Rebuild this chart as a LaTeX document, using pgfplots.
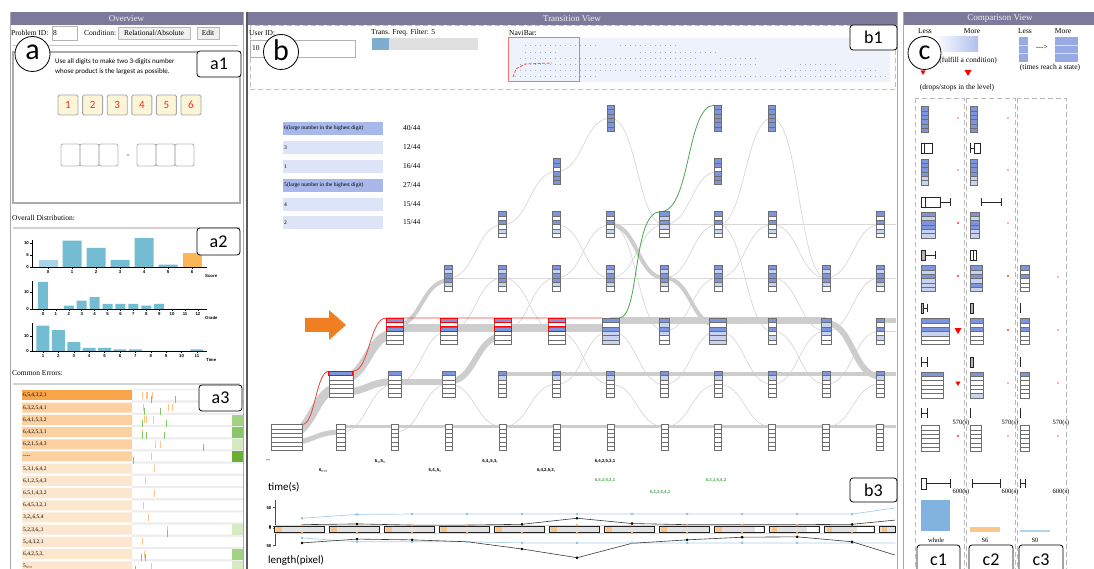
\documentclass[border=0pt]{standalone}
\usepackage{pgfplots}
\pgfplotsset{compat=1.18}
\usepackage{fontspec}
\setmainfont{Liberation Serif}
\setsansfont{Liberation Sans}
\newfontfamily\carl{Carlito}

\definecolor{hdr}{HTML}{7C7A9B}
\definecolor{hdrtxt}{HTML}{EEEEF6}
\definecolor{pgray}{HTML}{A8A8A8}
\definecolor{tile}{HTML}{FCF5D8}
\definecolor{dred}{HTML}{E8312B}
\definecolor{barb}{HTML}{74BCD1}
\definecolor{barl}{HTML}{A9D3E6}
\definecolor{baro}{HTML}{FBB657}
\definecolor{or1}{HTML}{F9A64A}
\definecolor{or2}{HTML}{FCD0A0}
\definecolor{or3}{HTML}{FDE6CE}
\definecolor{tickor}{HTML}{FBC48A}
\definecolor{tickgr}{HTML}{86C463}
\definecolor{gsq1}{HTML}{D3EAC3}
\definecolor{gsq2}{HTML}{A3D185}
\definecolor{gsq3}{HTML}{8CC66A}
\definecolor{gsq4}{HTML}{6AAE35}
\definecolor{nb}{HTML}{7D95DE}
\definecolor{nl}{HTML}{C8D3F3}
\definecolor{nedge}{HTML}{6E6E6E}
\definecolor{tbd}{HTML}{A9B8EA}
\definecolor{tbl}{HTML}{DDE4F7}
\definecolor{flowg}{HTML}{CDCDCD}
\definecolor{flowt}{HTML}{D8D8D8}
\definecolor{redp}{HTML}{EE4444}
\definecolor{greenp}{HTML}{4DA84D}
\definecolor{navi}{HTML}{EEF3FB}
\definecolor{navid}{HTML}{9DAFD3}
\definecolor{slider}{HTML}{E0E0E0}
\definecolor{sliderb}{HTML}{7EADD0}
\definecolor{lblue}{HTML}{A6D0EA}
\definecolor{lbluem}{HTML}{8FC3E3}
\definecolor{lorange}{HTML}{FAD2A4}
\definecolor{dorange}{HTML}{F7B46A}
\definecolor{boxg}{HTML}{E2E2E2}
\definecolor{arrowo}{HTML}{F07E22}
\definecolor{wholeb}{HTML}{80B3DD}
\definecolor{s6o}{HTML}{FBC68A}
\definecolor{s0b}{HTML}{AED6EA}

\newcommand{\ui}{\fontsize{7.5}{8.5}\selectfont}
\newcommand{\rowf}{\fontsize{5.5}{6}\selectfont}
\newcommand{\lblf}{\sffamily\bfseries\fontsize{4.3}{5}\selectfont}

% stacked state glyph: name, half width, cell colours top to bottom
\newcommand{\defstack}[3]{%
  \pgfdeclareplotmark{#1}{%
    \pgfsetlinewidth{0.5pt}\pgfsetstrokecolor{nedge}%
    \foreach \cc [count=\i from 0] in {#3}{%
      \pgfsetfillcolor{\cc}%
      \pgfpathrectanglecorners{\pgfpoint{-#2pt}{13pt-\i*4.333pt}}{\pgfpoint{#2pt}{8.667pt-\i*4.333pt}}%
      \pgfusepath{fill,stroke}}}}
\defstack{sWide}{15.5}{white,white,white,white,white,white}
\defstack{sW45}{4.5}{white,white,white,white,white,white}
\defstack{sW35}{3.5}{white,white,white,white,white,white}
\defstack{sR1}{12}{nb,white,white,white,white,white}
\defstack{sR2}{8.5}{nb,white,nb,white,white,white}
\defstack{sB2}{8.5}{nb,white,nb,nl,nl,nl}
\defstack{sB3}{5}{nb,nl,nb,nl,white,white}
\defstack{sT}{6.5}{nb,white,white,white,white,white}
\defstack{sT2}{4}{nb,nl,white,white,white,white}
\defstack{sM}{4}{nb,nl,nb,nb,nl,white}
\defstack{sM2}{4}{nb,white,nb,white,nl,white}
\defstack{sA}{3.5}{nb,nb,nb,nb,nb,nb}
\defstack{sA2}{3.5}{nb,nb,white,nb,nb,nb}
\defstack{cA}{3.5}{nb,nb,nb,nb,nb,nb}
\defstack{cA2}{3.5}{nb,nb,nb,nb,nl,nl}
\defstack{cOneF}{7}{nb,nl,nb,nb,nl,nl}
\defstack{cOneT}{7}{nb,nl,nb,nl,nl,nl}
\defstack{cOneS}{14}{nb,white,nb,nl,white,white}
\defstack{cOneO}{11}{nb,white,white,white,white,white}
\defstack{cOneZ}{9}{white,white,white,white,white,white}
\defstack{cTwoF}{4.5}{nb,nl,nb,nb,nl,nl}
\defstack{cTwoT}{6}{nb,nl,nb,nl,nb,nl}
\defstack{cTwoS}{6.5}{nb,white,nb,white,white,white}
\defstack{cTwoO}{6.5}{nb,white,white,white,white,nl}
\defstack{cTwoZ}{5.5}{white,white,white,white,white,white}
\defstack{cThrT}{4.5}{nb,white,nb,white,white,white}
\defstack{cThrO}{4.5}{nb,white,white,white,white,white}
\defstack{cThrZ}{4.5}{white,white,white,white,white,white}
\pgfdeclareplotmark{rTop}{\pgfsetlinewidth{0.9pt}\pgfsetstrokecolor{red}%
  \pgfpathrectanglecorners{\pgfpoint{-12pt}{13pt}}{\pgfpoint{12pt}{8.667pt}}\pgfusepath{stroke}}
\pgfdeclareplotmark{rTwo}{\pgfsetlinewidth{0.9pt}\pgfsetstrokecolor{red}%
  \pgfpathrectanglecorners{\pgfpoint{-8.5pt}{13pt}}{\pgfpoint{8.5pt}{8.667pt}}%
  \pgfpathrectanglecorners{\pgfpoint{-8.5pt}{4.333pt}}{\pgfpoint{8.5pt}{0pt}}\pgfusepath{stroke}}

\newcommand{\fl}[5]{\draw[#5] (axis cs:#1,#3) .. controls (axis cs:#1.5,#3) and (axis cs:#1.5,#4) .. (axis cs:#2,#4);}
\tikzset{thk/.style={draw=flowg, line width=#1}, thn/.style={draw=flowt, line width=0.7pt}}
\pgfplotsset{every axis/.append style={/pgf/number format/assume math mode=true}}

\begin{document}
\begin{tikzpicture}[x=1pt,y=1pt]
\path[use as bounding box] (0,0) rectangle (1094,569);
\fill[white] (0,0) rectangle (1094,569);

% ================= decoration (pixel coordinates, y down) =================
\begin{scope}[shift={(0pt,569pt)}, yscale=-1]
% ---- panel A
\fill[hdr] (10,12) rectangle (243,25);
\node[text=hdrtxt, font=\fontsize{9}{10}\selectfont] at (126.5,18.7) {Overview};
\draw[pgray, line width=0.8pt] (10,12) -- (10,569);
\draw[pgray, line width=0.8pt] (243,12) -- (243,569);
\node[anchor=west, font=\ui, inner sep=0pt] at (11,33) {Problem ID:};
\draw[gray!60, fill=white] (52,26) rectangle (77,40);
\node[anchor=west, font=\ui, inner sep=0pt] at (53,33) {8};
\node[anchor=west, font=\ui, inner sep=0pt] at (84,33) {Condition:};
\draw[gray!55, fill=gray!12] (118,27) rectangle (190,39);
\node[font=\ui, inner sep=0pt] at (154,33) {Relational/Absolute};
\draw[gray!55, fill=gray!12] (197,27) rectangle (219,39);
\node[font=\ui, inner sep=0pt] at (208,33) {Edit};
\draw[gray!45, line width=0.8pt] (13,45) -- (238,45);
\draw[gray!65, line width=1.3pt] (13,52) rectangle (240,203);
\node[anchor=west, font=\carl\fontsize{7}{8}\selectfont, inner sep=0pt] at (55,62) {Use all digits to make two 3-digits number};
\node[anchor=west, font=\carl\fontsize{7}{8}\selectfont, inner sep=0pt] at (55,72) {whose product is the largest as possible.};
\foreach \a/\n in {58/1,82.6/2,107.2/3,131.8/4,156.4/5,181/6}{
  \draw[rounded corners=1.5pt, fill=tile, draw=gray!70, line width=0.9pt] (\a,95) rectangle ++(20,20);
  \node[text=dred, font=\carl\fontsize{11}{12}\selectfont] at (\a+10,105) {\n};}
\foreach \a in {61,80,99,137,156,175}{
  \draw[rounded corners=2pt, draw=gray!55, line width=0.9pt] (\a,144) rectangle ++(19,22);}
\fill[gray!70] (128,155) circle (1.2pt);
\node[anchor=west, font=\ui, inner sep=0pt] at (12,218) {Overall Distribution:};
\draw[gray!35, line width=1.2pt] (13,228) -- (240,228);
\node[anchor=west, font=\lblf, inner sep=0pt] at (205,276) {Score};
\node[anchor=west, font=\lblf, inner sep=0pt] at (205,318) {Grade};
\node[anchor=west, font=\lblf, inner sep=0pt] at (206,360) {Time};
\node[anchor=west, font=\ui, inner sep=0pt] at (12,373) {Common Errors:};
\draw[gray!35, line width=1.2pt] (13,384) -- (240,384);

% ---- panel B
\fill[hdr] (248,12) rectangle (897,25);
\node[text=hdrtxt, font=\fontsize{9}{10}\selectfont] at (572,18.7) {Transition View};
\draw[gray!70!black, line width=1.4pt] (247,12) -- (247,569);
\draw[pgray, line width=0.8pt] (897,12) -- (897,569);
\draw[gray!50, line width=1pt, dash pattern=on 5pt off 3pt] (250,26) rectangle (895,90);
\node[anchor=west, font=\ui, inner sep=0pt] at (249,33) {User ID:};
\draw[gray!60, fill=white] (250,40) rectangle (355,57);
\node[anchor=west, font=\ui, inner sep=0pt] at (252,48.5) {10};
\node[anchor=west, font=\ui, inner sep=0pt] at (371,33) {Trans. Freq. Filter: 5};
\fill[slider] (372,38) rectangle (478,50);
\fill[sliderb] (372,38) rectangle (389,50);
\node[anchor=west, font=\ui, inner sep=0pt] at (509,33) {NaviBar:};
\fill[navi] (508,38) rectangle (890,82);
\foreach \y/\a/\b in {45/525/600,45/620/680,52/525/560,52/640/720,58/520/700,58/720/760,64/520/760,64/800/840,70/520/740,70/780/880,76/515/600,76/640/890}{
  \draw[navid, line width=0.7pt, dash pattern=on 1pt off 4pt] (\a,\y) -- (\b,\y);}
\draw[red!70, line width=0.8pt, dash pattern=on 3pt off 1.5pt] (513,77) -- (516,69) -- (525,64) -- (552,63);
\draw[red!55, line width=1pt] (508,38) rectangle (579,82);
% table
\fill[tbd] (283,122) rectangle (383,135);
\fill[tbl] (283,141) rectangle (383,154);
\fill[tbl] (283,160) rectangle (383,173);
\fill[tbd] (283,179) rectangle (383,192);
\fill[tbl] (283,198) rectangle (383,211);
\fill[tbl] (283,216) rectangle (383,229);
\node[anchor=west, font=\fontsize{5.6}{6}\selectfont, inner sep=0pt] at (284,128.5) {6(large number in the highest digit)};
\node[anchor=west, font=\fontsize{5.6}{6}\selectfont, inner sep=0pt] at (284,147.5) {3};
\node[anchor=west, font=\fontsize{5.6}{6}\selectfont, inner sep=0pt] at (284,166.5) {1};
\node[anchor=west, font=\fontsize{5.6}{6}\selectfont, inner sep=0pt] at (284,185.5) {5(large number in the highest digit)};
\node[anchor=west, font=\fontsize{5.6}{6}\selectfont, inner sep=0pt] at (284,204.5) {4};
\node[anchor=west, font=\fontsize{5.6}{6}\selectfont, inner sep=0pt] at (284,222.5) {2};
\node[anchor=west, font=\fontsize{7.5}{8}\selectfont, inner sep=0pt] at (403,128.5) {40/44};
\node[anchor=west, font=\fontsize{7.5}{8}\selectfont, inner sep=0pt] at (403,147.5) {12/44};
\node[anchor=west, font=\fontsize{7.5}{8}\selectfont, inner sep=0pt] at (403,166.5) {16/44};
\node[anchor=west, font=\fontsize{7.5}{8}\selectfont, inner sep=0pt] at (403,185.5) {27/44};
\node[anchor=west, font=\fontsize{7.5}{8}\selectfont, inner sep=0pt] at (403,204.5) {15/44};
\node[anchor=west, font=\fontsize{7.5}{8}\selectfont, inner sep=0pt] at (403,222.5) {15/44};
% state labels under the columns
\node[font=\lblf] at (268,461) {{-}{-}{-}};
\node[font=\lblf] at (323,470) {6,,,,,};
\node[font=\lblf] at (380,461) {6,,,5,,};
\node[font=\lblf] at (435,470) {6,4,,5,,};
\node[font=\lblf] at (490,461) {6,4,,5,3,};
\node[font=\lblf] at (546,470) {6,4,2,5,3,};
\node[font=\lblf] at (605,461) {6,4,2,5,3,1};
\node[font=\lblf, text=greenp] at (605,480) {6,4,2,5,3,1};
\node[font=\lblf, text=greenp] at (660,492) {6,3,2,5,4,1};
\node[font=\lblf, text=greenp] at (716,480) {6,3,1,5,4,2};
% orange arrow
\fill[arrowo] (305,318) -- (329,318) -- (329,310) -- (346,325) -- (329,340) -- (329,332) -- (305,332) -- cycle;
\node[anchor=west, font=\carl\fontsize{11}{12}\selectfont, inner sep=0pt] at (268,487) {time(s)};
\node[anchor=west, font=\carl\fontsize{11}{12}\selectfont, inner sep=0pt] at (268,560) {length(pixel)};

% ---- panel C
\fill[hdr] (903,12) rectangle (1094,25);
\node[text=hdrtxt, font=\fontsize{9}{10}\selectfont] at (1000,18.7) {Comparison View};
\draw[pgray, line width=0.8pt] (903,12) -- (903,569);
\node[font=\ui, inner sep=0pt] at (925,31) {Less};
\node[font=\ui, inner sep=0pt] at (972,31) {More};
\shade[left color=white, right color=nb!60] (935,37) rectangle (978,52);
\node[font=\ui, inner sep=0pt] at (1025,31) {Less};
\node[font=\ui, inner sep=0pt] at (1063,31) {More};
\fill[nb!80] (1019,37) rectangle (1028,62);
\draw[white!70!nb, line width=0.4pt] (1019,45) -- (1028,45) (1019,53) -- (1028,53);
\node[font=\ui, inner sep=0pt] at (1042,47) {-{}-{}->};
\fill[nb!80] (1055,37) rectangle (1078,62);
\draw[white!70!nb, line width=0.4pt] (1055,45) -- (1078,45) (1055,53) -- (1078,53);
\node[font=\ui, inner sep=0pt] at (968,61) {(fulfill a condition)};
\node[font=\ui, inner sep=0pt] at (1050,68) {(times reach a state)};
\node[font=\ui, inner sep=0pt] at (957,88) {(drops/stops in the level)};
\draw[gray!55, line width=0.9pt, dash pattern=on 5pt off 3pt] (915,98) rectangle (964,575);
\draw[gray!55, line width=0.9pt, dash pattern=on 5pt off 3pt] (966,98) rectangle (1015,575);
\draw[gray!55, line width=0.9pt, dash pattern=on 5pt off 3pt] (1017,98) rectangle (1066,575);
% boxplot glyphs
\begin{scope}[draw=gray!30!black, line width=0.6pt]
\draw (921,143) rectangle (932,153); \draw (924,143) -- (924,153);
\draw (921,197) rectangle (940,207); \draw (925,197) -- (925,207); \draw (940,202) -- (950,202) (950,198) -- (950,206);
\draw[fill=gray!60] (921,250) rectangle (925,260); \draw (925,255) -- (935,255) (935,251) -- (935,259);
\draw[fill=gray!60] (921,303) rectangle (923,313); \draw (923,308) -- (927,308) (927,304) -- (927,312);
\draw (921,357) -- (921,367) (921,362) -- (927,362) (927,357) -- (927,367);
\draw (921,408) -- (921,418) (921,413) -- (927,413) (927,408) -- (927,418);
\draw (921,478) rectangle (926,489); \draw (926,483.5) -- (950,483.5) (950,479) -- (950,488);
\draw (970,143) -- (970,153) (970,148) -- (974,148); \draw (974,143) rectangle (980,153);
\draw (981,198) -- (981,206) (981,202) -- (1001,202) (1001,198) -- (1001,206);
\draw (970,250) rectangle (976,260); \draw (973,250) -- (973,260);
\draw[fill=gray!60] (970,303) rectangle (973,313);
\draw[fill=gray!60] (970,357) rectangle (973,367);
\draw (970,408) -- (970,418);
\draw (972,479) -- (972,488) (972,483.5) -- (1000,483.5) (1000,479) -- (1000,488);
\draw (1020,303) -- (1020,313);
\draw (1020,357) -- (1020,367);
\draw (1020,408) -- (1020,418);
\draw (1020,479) -- (1020,488) (1020,483.5) -- (1025,483.5) (1025,479) -- (1025,488);
\end{scope}
\foreach \x in {961,1010,1061}{
  \node[font=\fontsize{6.5}{7}\selectfont, inner sep=0pt] at (\x,423) {570(s)};
  \node[font=\fontsize{6.5}{7}\selectfont, inner sep=0pt] at (\x,492) {600(s)};}
\fill[wholeb] (921,500) rectangle (950,531);
\fill[s6o] (970,527) rectangle (1000,532);
\fill[s0b] (1020,530) rectangle (1050,532.5);
\node[font=\fontsize{6.5}{7}\selectfont, inner sep=0pt] at (936,540) {whole};
\node[font=\fontsize{6.5}{7}\selectfont, inner sep=0pt] at (985,540) {S6};
\node[font=\fontsize{6.5}{7}\selectfont, inner sep=0pt] at (1035,540) {S0};
\end{scope}

% ================= canvas axis for the comparison view glyphs =================
\begin{axis}[at={(0pt,0pt)}, anchor=south west, scale only axis, width=1094pt, height=569pt,
  xmin=0, xmax=1094, ymin=0, ymax=569, y dir=reverse, hide axis, clip=false]
\addplot[only marks, mark=cA] coordinates {(924.5,119.5) (973.5,119.5)};
\addplot[only marks, mark=cA2] coordinates {(924.5,172) (973.5,172)};
\addplot[only marks, mark=cOneF] coordinates {(928,225)};
\addplot[only marks, mark=cOneT] coordinates {(928,278.5)};
\addplot[only marks, mark=cOneS] coordinates {(935,331.5)};
\addplot[only marks, mark=cOneO] coordinates {(932,385)};
\addplot[only marks, mark=cOneZ] coordinates {(930,438.5)};
\addplot[only marks, mark=cTwoF] coordinates {(974.5,225)};
\addplot[only marks, mark=cTwoT] coordinates {(976,278.5)};
\addplot[only marks, mark=cTwoS] coordinates {(976.5,331.5)};
\addplot[only marks, mark=cTwoO] coordinates {(976.5,385)};
\addplot[only marks, mark=cTwoZ] coordinates {(975.5,438.5)};
\addplot[only marks, mark=cThrT] coordinates {(1024.5,278.5) (1024.5,331.5)};
\addplot[only marks, mark=cThrO] coordinates {(1024.5,385)};
\addplot[only marks, mark=cThrZ] coordinates {(1024.5,438.5)};
\addplot[only marks, mark=*, mark size=0.8pt, color=red!35] coordinates {(958,118) (958,170) (1008,118) (1008,170) (1008,223) (1058,277) (1058,330) (1008,383) (1058,383) (1008,436) (1058,436)};
\addplot[only marks, mark=*, mark size=0.9pt, color=red!70] coordinates {(958,223) (958,276) (1008,276) (1008,330) (958,436)};
\addplot[only marks, mark=triangle*, mark size=3.6pt, color=red, mark options={rotate=180}] coordinates {(958,330) (968,72)};
\addplot[only marks, mark=triangle*, mark size=2.5pt, color=red, mark options={rotate=180}] coordinates {(958,383)};
\end{axis}

% ================= a2: overall distribution =================
\begin{axis}[at={(32pt,302pt)}, anchor=south west, scale only axis, width=175pt, height=27pt,
  xmin=-0.667, xmax=6.625, ymin=0, ymax=11.25, axis x line=bottom, axis y line=left,
  axis line style={-, black, line width=0.6pt}, xtick={0,...,6}, ytick={0,5,10},
  tick align=outside, major tick length=2pt, tick style={black, line width=0.5pt},
  ticklabel style={font=\lblf, inner sep=1pt}, clip=false]
\addplot[ybar, bar width=19pt, bar shift=0pt, fill=barl, draw=none] coordinates {(0,3)};
\addplot[ybar, bar width=19pt, bar shift=0pt, fill=barb, draw=none] coordinates {(1,11) (2,8) (3,3) (4,12) (5,1)};
\addplot[ybar, bar width=19pt, bar shift=0pt, fill=baro, draw=none] coordinates {(6,6)};
\end{axis}
\begin{axis}[at={(32pt,260pt)}, anchor=south west, scale only axis, width=175pt, height=28pt,
  xmin=-0.85, xmax=12.7, ymin=0, ymax=16.5, axis x line=bottom, axis y line=left,
  axis line style={-, black, line width=0.6pt}, xtick={0,...,12}, ytick={0,10},
  tick align=outside, major tick length=2pt, tick style={black, line width=0.5pt},
  ticklabel style={font=\lblf, inner sep=1pt}, clip=false]
\addplot[ybar, bar width=10pt, bar shift=0pt, fill=barb, draw=none] coordinates {(0,16) (1,0) (2,2) (3,5) (4,7) (5,3) (6,3) (7,3) (8,2) (9,3) (10,0) (11,0) (12,0)};
\end{axis}
\begin{axis}[at={(32pt,218pt)}, anchor=south west, scale only axis, width=175pt, height=28pt,
  xmin=0.286, xmax=11.65, ymin=0, ymax=18.7, axis x line=bottom, axis y line=left,
  axis line style={-, black, line width=0.6pt}, xtick={1,...,11}, ytick={0,10},
  tick align=outside, major tick length=2pt, tick style={black, line width=0.5pt},
  ticklabel style={font=\lblf, inner sep=1pt}, clip=false]
\addplot[ybar, bar width=13pt, bar shift=0pt, fill=barb, draw=none] coordinates {(1,17) (2,14) (3,6) (4,2) (5,2) (6,1) (7,1) (8,0) (9,0) (10,0) (11,1)};
\end{axis}

% ================= a3: common errors =================
\begin{axis}[at={(22pt,-3.4pt)}, anchor=south west, scale only axis, width=221pt, height=183pt,
  xmin=22, xmax=243, ymin=0.5, ymax=15.5, y dir=reverse, hide axis, clip mode=individual]
\fill[gray!14] (axis cs:132,0.5) rectangle (axis cs:243,15.5);
\addplot[xbar, bar width=10pt, bar shift=0pt, fill=white, draw=none] coordinates {(243,1) (243,2) (243,3) (243,4) (243,5) (243,6) (243,7) (243,8) (243,9) (243,10) (243,11) (243,12) (243,13) (243,14) (243,15)};
\addplot[xbar, bar width=10pt, bar shift=0pt, fill=or1, draw=none] coordinates {(132,1)};
\addplot[xbar, bar width=10pt, bar shift=0pt, fill=or2, draw=none] coordinates {(132,2) (132,3) (132,4) (132,5) (132,6)};
\addplot[xbar, bar width=10pt, bar shift=0pt, fill=or3, draw=none] coordinates {(132,7) (132,8) (132,9) (132,10) (132,11) (132,12) (132,13) (132,14) (132,15)};
\addplot[only marks, mark=|, mark size=3.5pt, color=tickor, mark options={line width=0.9pt}] coordinates {(142,1) (146,1) (147.5,1) (152,1) (143,2) (168,2) (172,2) (144,3) (146,3) (153,3) (142,4) (155,5) (160,5) (151,6) (154,7) (145,8) (154,9) (143,10) (148,11) (167,12) (142,13) (144,14) (151,15)};
\addplot[only marks, mark=|, mark size=3.5pt, color=tickgr, mark options={line width=0.9pt}] coordinates {(151,1.3) (175,1.3) (144,2.3) (160,2.3) (142,3.3) (166,3.3) (142,4.3) (146,4.3) (164,4.3) (203,5.3) (133,6.3) (167,12.3) (141,14.3) (145,14.3) (135,15.3)};
\addplot[only marks, mark=square*, mark size=5pt, color=gsq1] coordinates {(237.5,5) (237.5,12) (237.5,15)};
\addplot[only marks, mark=square*, mark size=5pt, color=gsq2] coordinates {(237.5,3) (237.5,14)};
\addplot[only marks, mark=square*, mark size=5pt, color=gsq3] coordinates {(237.5,4)};
\addplot[only marks, mark=square*, mark size=5pt, color=gsq4] coordinates {(237.5,6)};
\node[anchor=west, font=\rowf, inner sep=0pt] at (axis cs:23,1) {6,5,4,3,2,1};
\node[anchor=west, font=\rowf, inner sep=0pt] at (axis cs:23,2) {6,3,2,5,4,1};
\node[anchor=west, font=\rowf, inner sep=0pt] at (axis cs:23,3) {6,4,1,5,3,2};
\node[anchor=west, font=\rowf, inner sep=0pt] at (axis cs:23,4) {6,4,2,5,3,1};
\node[anchor=west, font=\rowf, inner sep=0pt] at (axis cs:23,5) {6,2,1,5,4,3};
\node[anchor=west, font=\rowf, inner sep=0pt] at (axis cs:23,6) {{-}{-}{-}{-}};
\node[anchor=west, font=\rowf, inner sep=0pt] at (axis cs:23,7) {5,3,1,6,4,2};
\node[anchor=west, font=\rowf, inner sep=0pt] at (axis cs:23,8) {6,1,2,5,4,3};
\node[anchor=west, font=\rowf, inner sep=0pt] at (axis cs:23,9) {6,5,1,4,3,2};
\node[anchor=west, font=\rowf, inner sep=0pt] at (axis cs:23,10) {6,4,5,3,2,1};
\node[anchor=west, font=\rowf, inner sep=0pt] at (axis cs:23,11) {3,2,,6,5,4};
\node[anchor=west, font=\rowf, inner sep=0pt] at (axis cs:23,12) {5,2,3,6,,1};
\node[anchor=west, font=\rowf, inner sep=0pt] at (axis cs:23,13) {5,,4,3,2,1};
\node[anchor=west, font=\rowf, inner sep=0pt] at (axis cs:23,14) {6,4,2,5,3,};
\node[anchor=west, font=\rowf, inner sep=0pt] at (axis cs:23,15) {5,,,,,};
\end{axis}

% ================= b: transition graph (x = step, y = level) =================
\begin{axis}[at={(260.05pt,104.9pt)}, anchor=south west, scale only axis, width=636.02pt, height=372.4pt,
  xmin=-0.5, xmax=11.3, ymin=-0.5, ymax=6.5, hide axis, clip=false]
% thin transitions
\fl{1}{2}{0.1}{1}{thn} \fl{2}{3}{1}{2}{thn} \fl{2}{3}{0.1}{1}{thn} \fl{3}{4}{2}{3}{thn}
\fl{3}{4}{3}{4}{thn} \fl{4}{5}{4}{5}{thn} \fl{5}{6}{5}{6}{thn} \fl{4}{5}{3}{2}{thn}
\fl{4}{5}{2}{3}{thn} \fl{5}{6}{3}{4}{thn} \fl{5}{6}{4}{3}{thn} \fl{5}{6}{2}{1}{thn}
\fl{5}{6}{1}{2}{thn} \fl{3}{4}{1}{0.2}{thn} \fl{4}{5}{0.2}{1}{thn} \fl{6}{7}{6}{4}{thn}
\fl{6}{7}{3}{4}{thn} \fl{6}{7}{2}{1}{thn} \fl{6}{7}{1}{0.2}{thn} \fl{6}{7}{4}{2}{thn}
\fl{7}{8}{4}{5}{thn} \fl{7}{8}{2}{3}{thn} \fl{7}{8}{3}{4}{thn} \fl{7}{8}{0.2}{1}{thn}
\fl{7}{8}{1}{2}{thn} \fl{8}{9}{4}{6}{thn} \fl{8}{9}{3}{4}{thn} \fl{8}{9}{2}{1}{thn}
\fl{8}{9}{1}{0.2}{thn} \fl{8}{9}{4}{2}{thn} \fl{9}{10}{6}{3}{thn} \fl{9}{10}{4}{3}{thn}
\fl{9}{10}{3}{2}{thn} \fl{9}{10}{2}{1}{thn} \fl{9}{10}{1}{2}{thn} \fl{10}{11}{3}{4}{thn}
\fl{10}{11}{2}{3}{thn} \fl{10}{11}{1}{2}{thn} \fl{10}{11}{0.2}{1}{thn} \fl{6}{7}{4}{3}{thn}
\draw[thn] (axis cs:3,3) -- (axis cs:11.3,3);
\draw[thn] (axis cs:6,4) -- (axis cs:11.3,4);
\draw[thn] (axis cs:11,2) -- (axis cs:11.3,2);
% heavy transitions
\draw[thk=3pt] (axis cs:1,0.2) -- (axis cs:11.3,0.2);
\fl{0}{1}{-0.1}{0.1}{thk=5pt}
\fl{0}{1}{0.05}{0.95}{thk=9pt}
\fl{1}{2}{1.1}{1.95}{thk=9pt}
\fl{1}{2}{0.85}{1.05}{thk=7pt}
\draw[thk=8pt] (axis cs:2,2.05) -- (axis cs:6,2.05);
\draw[thk=6pt] (axis cs:2,1.05) -- (axis cs:3,1.05);
\fl{3}{4}{1.05}{1.9}{thk=6pt}
\fl{2}{3}{2.1}{2.95}{thk=4pt}
\draw[thk=4pt] (axis cs:4,1.2) -- (axis cs:11.3,1.2);
\draw[thk=7pt] (axis cs:6,2.2) -- (axis cs:10,2.2);
\fl{10}{11}{2.15}{1.15}{thk=6pt}
\draw[thk=5pt] (axis cs:11,2.2) -- (axis cs:11.3,2.2);
\fl{6}{7}{4.0}{3.0}{thk=4pt}
\fl{7}{8}{3.0}{2.1}{thk=4pt}
% highlighted paths
\draw[redp, line width=0.8pt] (axis cs:0.28,0.245) .. controls (axis cs:0.53,0.245) and (axis cs:0.53,1.245) .. (axis cs:0.78,1.245);
\draw[redp, line width=0.8pt] (axis cs:1.22,1.245) .. controls (axis cs:1.53,1.245) and (axis cs:1.53,2.245) .. (axis cs:1.84,2.245) -- (axis cs:5.84,2.245);
\draw[greenp, line width=0.8pt] (axis cs:6.16,2.245) .. controls (axis cs:6.55,2.245) and (axis cs:6.4,4.245) .. (axis cs:6.93,4.245) .. controls (axis cs:7.5,4.245) and (axis cs:7.4,6.245) .. (axis cs:7.93,6.245);
% states
\addplot[only marks, mark=sWide] coordinates {(0,0)};
\addplot[only marks, mark=sW45] coordinates {(1,0)};
\addplot[only marks, mark=sW35] coordinates {(2,0) (3,0) (4,0) (5,0) (6,0) (7,0) (8,0) (9,0) (10,0) (11,0)};
\addplot[only marks, mark=sR1] coordinates {(1,1)};
\addplot[only marks, mark=rTop] coordinates {(1,1)};
\addplot[only marks, mark=sT] coordinates {(2,1) (3,1)};
\addplot[only marks, mark=sT2] coordinates {(4,1) (5,1) (6,1) (7,1) (8,1) (9,1) (10,1) (11,1)};
\addplot[only marks, mark=sR2] coordinates {(2,2) (3,2) (4,2) (5,2)};
\addplot[only marks, mark=rTwo] coordinates {(2,2) (3,2) (4,2) (5,2)};
\addplot[only marks, mark=sB2] coordinates {(6,2) (8,2)};
\addplot[only marks, mark=sB3] coordinates {(7,2) (10,2)};
\addplot[only marks, mark=sM2] coordinates {(9,2) (11,2)};
\addplot[only marks, mark=sM] coordinates {(3,3) (4,3) (5,3) (6,3) (7,3) (8,3) (9,3) (10,3) (11,3)};
\addplot[only marks, mark=sM2] coordinates {(4,4) (5,4) (6,4) (8,4) (9,4) (11,4)};
\addplot[only marks, mark=sB3] coordinates {(7,4)};
\addplot[only marks, mark=sA2] coordinates {(5,5) (8,5)};
\addplot[only marks, mark=sA] coordinates {(6,6) (8,6) (9,6)};
\end{axis}

% ================= b3: time / length lines =================
\begin{axis}[at={(275pt,9pt)}, anchor=south west, scale only axis, width=620pt, height=60pt,
  xmin=-0.491, xmax=10.78, ymin=-88, ymax=70, axis x line=none, axis y line=left,
  axis line style={-, gray!60!black, line width=0.6pt}, y axis line style={shorten <=14pt},
  xtick=\empty, ytick={-50,-4,0,50}, yticklabels={50,0,0,50},
  tick align=outside, major tick length=2.5pt, tick style={gray!60!black},
  yticklabel style={font=\lblf, inner sep=1pt}, clip=false]
\addplot[ybar, bar width=50pt, bar shift=0pt, fill=boxg, draw=none] coordinates {(-0.055,-14) (0.945,-14) (1.945,-14) (2.945,-14) (3.945,-14) (4.945,-14) (5.945,-14) (6.945,-14) (7.945,-14) (8.945,-14) (9.945,-14)};
\addplot[ybar, bar width=16pt, bar shift=0pt, fill=boxg, draw=none] coordinates {(10.636,-14)};
\addplot[ybar, bar width=8pt, bar shift=0pt, fill=white, draw=none] coordinates {(8.309,-14)};
\addplot[ybar, bar width=11pt, bar shift=0pt, fill=white, draw=none] coordinates {(9.282,-14)};
\addplot[ybar, bar width=16pt, bar shift=0pt, fill=white, draw=none] coordinates {(10.236,-14)};
\addplot[ybar, bar width=50pt, bar shift=0pt, fill=none, draw=gray!25!black, line width=0.7pt] coordinates {(-0.055,-14) (0.945,-14) (1.945,-14) (2.945,-14) (3.945,-14) (4.945,-14) (5.945,-14) (6.945,-14) (7.945,-14) (8.945,-14) (9.945,-14)};
\addplot[ybar, bar width=16pt, bar shift=0pt, fill=none, draw=gray!25!black, line width=0.7pt] coordinates {(10.636,-14)};
\addplot[only marks, mark=square*, mark size=2.4pt, color=dorange!80] coordinates {(-0.418,-7) (0.582,-7) (1.582,-7) (2.582,-7) (3.582,-7) (4.582,-7) (5.582,-7) (6.582,-7) (7.582,-7) (8.582,-7) (9.582,-7) (10.582,-7)};
% orange guides
\addplot[lorange, line width=0.8pt] coordinates {(-0.491,4) (10.78,4)};
\addplot[lorange, line width=0.8pt] coordinates {(-0.491,-17) (10.78,-17)};
\addplot[only marks, mark=*, mark size=1.1pt, color=dorange] coordinates {(0,4) (1,4) (2,4) (3,4) (4,4) (5,4) (6,4) (7,4) (8,4) (9,4) (10,4) (0,-17) (1,-17) (2,-17) (3,-17) (4,-17) (5,-17) (6,-17) (7,-17) (8,-17) (9,-17) (10,-17)};
% light blue series
\addplot[lblue, line width=0.7pt] coordinates {(0,22) (1,32) (2,33) (3,33) (4,33) (5,33) (6,33) (7,33) (8,33) (9,33) (10,33) (10.78,49)};
\addplot[lblue, line width=0.7pt] coordinates {(0,-30) (1,-40) (2,-40) (3,-40) (4,-43) (5,-43) (6,-43) (7,-43) (8,-43) (9,-43) (10,-43) (10.78,-43)};
\addplot[only marks, mark=*, mark size=1.1pt, color=lbluem] coordinates {(0,22) (1,32) (2,33) (3,33) (4,33) (5,33) (6,33) (7,33) (8,33) (9,33) (10,33) (0,-30) (1,-40) (2,-40) (3,-40) (4,-43) (5,-43) (6,-43) (7,-43) (8,-43) (9,-43) (10,-43)};
% black series
\addplot[gray!45!black, line width=0.6pt] coordinates {(0,5) (1,7) (2,4) (3,4) (4,6) (5,22) (6,8) (7,5) (8,5) (9,5) (10,6) (10.78,17)};
\addplot[gray!45!black, line width=0.6pt] coordinates {(0,-43) (1,-33) (2,-35) (3,-40) (4,-59) (5,-82) (6,-44) (7,-35) (8,-28) (9,-27) (10,-40) (10.78,-75)};
\addplot[only marks, mark=*, mark size=1.1pt, color=black] coordinates {(1,7) (4,6) (5,22) (6,8) (10,6) (0,-43) (1,-33) (2,-35) (4,-59) (5,-82) (7,-35) (8,-28) (9,-27) (10,-40)};
\end{axis}

% ================= annotation overlays =================
\begin{scope}[shift={(0pt,569pt)}, yscale=-1]
\draw[black, fill=white, line width=0.8pt] (32.5,54) circle (17.5pt);
\node[font=\carl\fontsize{30}{30}\selectfont, inner sep=0pt] at (32.5,52) {a};
\draw[black, fill=white, line width=0.8pt] (281,52) circle (17.5pt);
\node[font=\carl\fontsize{30}{30}\selectfont, inner sep=0pt] at (281,50) {b};
\draw[black, fill=white, line width=0.8pt] (924.5,53) circle (16.5pt);
\node[font=\carl\fontsize{28}{28}\selectfont, inner sep=0pt] at (924.5,53) {c};
\foreach \a/\b/\c/\d/\t in {197/51/241/77/a1,197/228/240/255/a2,199/385/242/411/a3,850/25/897/50/b1,850/478/897/502/b3,917/545/960/575/c1,969/545/1013/575/c2,1019/545/1063/575/c3}{
  \draw[black, fill=white, line width=0.8pt, rounded corners=3pt] (\a,\b) rectangle (\c,\d);
  \node[font=\carl\fontsize{18}{18}\selectfont, inner sep=0pt] at ({(\a+\c)/2},{(\b+\d)/2}) {\t};}
\end{scope}
% small legend triangle just below circle c
\begin{axis}[at={(0pt,0pt)}, anchor=south west, scale only axis, width=1094pt, height=569pt,
  xmin=0, xmax=1094, ymin=0, ymax=569, y dir=reverse, hide axis, clip=false]
\addplot[only marks, mark=triangle*, mark size=2.5pt, color=red, mark options={rotate=180}] coordinates {(923,72)};
\end{axis}
\end{tikzpicture}
\end{document}
